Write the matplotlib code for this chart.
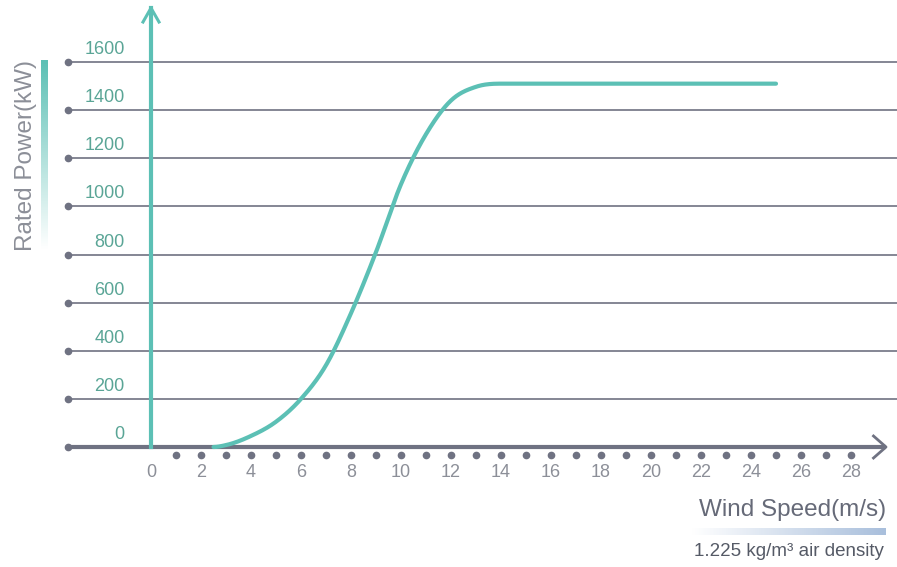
import numpy as np
import matplotlib.pyplot as plt
from matplotlib.colors import LinearSegmentedColormap

plt.rcParams['font.family'] = ['Liberation Sans', 'DejaVu Sans']

# 功率曲线数据 (风速 m/s, 功率 kW)
wind_speed = [2.5, 3, 4, 5, 6, 7, 8, 9, 10, 11, 12, 13, 14, 25]
power = [0, 8, 46, 105, 200, 340, 556, 810, 1092, 1300, 1440, 1497, 1510, 1510]

y_ticks = [0, 200, 400, 600, 800, 1000, 1200, 1400, 1600]
x_labels = [0, 2, 4, 6, 8, 10, 12, 14, 16, 18, 20, 22, 24, 26, 28]
x_dots = list(range(1, 29))

teal = '#5cc0b5'
teal_text = '#5aa596'
gray = '#6f7282'
gray_text = '#8c8f98'

fig = plt.figure(figsize=(8.97, 5.67), dpi=100)
ax = fig.add_axes([0, 0, 1, 1])
ax.set_xlim(-6.04, 29.84)
ax.set_ylim(-498.7, 1857.7)
ax.axis('off')

px = 1 / 25.0          # 每像素对应的风速
py = 200 / 48.125      # 每像素对应的功率

# 水平网格线和左侧圆点
for v in y_ticks[1:]:
    ax.plot([-3.32, 29.84], [v, v], color=gray, lw=1.2, zorder=1)
for v in y_ticks:
    ax.plot(-3.32, v, 'o', color=gray, ms=4.5, zorder=2)
    ax.text(-1.05, v + 4 * py, str(v), color=teal_text, fontsize=13,
            ha='right', va='bottom')

# x 轴（带箭头）
ax.plot([-3.32, 29.4], [0, 0], color=gray, lw=3, zorder=3, solid_capstyle='butt')
ax.plot([28.9, 29.4, 28.9], [-11 * py, 0, 11 * py], color=gray, lw=2, zorder=3)

# y 轴（带箭头）
ax.plot([0, 0], [0, 439 * py], color=teal, lw=3, zorder=4)
ax.plot([-8 * px, 0, 8 * px], [425 * py, 439 * py, 425 * py], color=teal, lw=2.2, zorder=4)

# x 轴刻度点和标签
ax.plot(x_dots, [-8 * py] * len(x_dots), 'o', color=gray, ms=4.5, lw=0, zorder=2)
for v in x_labels:
    ax.text(v, -25 * py, str(v), color=gray_text, fontsize=13, ha='center', va='center')

# 功率曲线：三次 Hermite 平滑连接读取的点
xs = np.array(wind_speed, dtype=float)
ys = np.array(power, dtype=float)
h = np.diff(xs)
d = np.gradient(ys, xs)
d[0] = 0
d[-2:] = 0
xx = np.linspace(xs[0], xs[-1], 800)
k = np.clip(np.searchsorted(xs, xx) - 1, 0, len(xs) - 2)
t = (xx - xs[k]) / h[k]
yy = ((2 * t**3 - 3 * t**2 + 1) * ys[k] + (t**3 - 2 * t**2 + t) * h[k] * d[k]
      + (-2 * t**3 + 3 * t**2) * ys[k + 1] + (t**3 - t**2) * h[k] * d[k + 1])
ax.plot(xx, yy, color=teal, lw=3, zorder=5, solid_capstyle='round')

# 坐标轴标题
ax.text(-5.0, (447 - 155) * py, 'Rated Power(kW)', rotation=90, color=gray_text,
        fontsize=17.5, ha='center', va='center')
cmap_v = LinearSegmentedColormap.from_list('v', ['#ffffff', teal])
grad = np.linspace(0, 1, 100).reshape(-1, 1)
ax.imshow(grad, cmap=cmap_v, extent=[-4.4, -4.16, (447 - 250) * py, (447 - 60) * py],
          aspect='auto', origin='lower', zorder=2)

ax.text(29.4, (447 - 510) * py, 'Wind Speed(m/s)', color='#666a78', fontsize=17.5,
        ha='right', va='center')
cmap_h = LinearSegmentedColormap.from_list('h', ['#ffffff', '#a9bfdc'])
grad_h = np.linspace(0, 1, 100).reshape(1, -1)
ax.imshow(grad_h, cmap=cmap_h, extent=[21.6, 29.4, (447 - 535) * py, (447 - 528) * py],
          aspect='auto', origin='lower', zorder=2)
ax.text(29.3, (447 - 551) * py, '1.225 kg/m³ air density', color='#555a66', fontsize=13.5,
        ha='right', va='center')

fig.savefig('out.png', dpi=100)
